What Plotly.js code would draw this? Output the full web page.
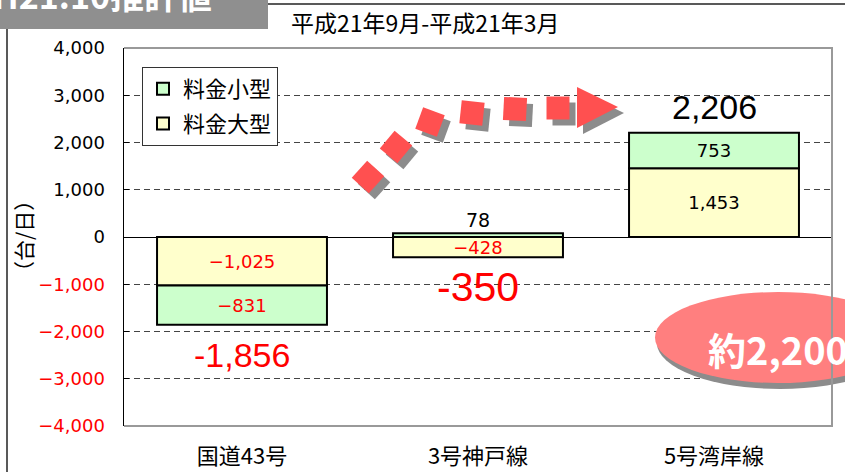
<!DOCTYPE html>
<html><head><meta charset="utf-8">
<script src="https://cdn.plot.ly/plotly-3.0.1.min.js"></script>
<style>html,body{margin:0;padding:0;background:#fff}#chart{width:845px;height:472px}</style>
</head><body><div id="chart"></div>
<script>
// ---- data ----
const categories = ['国道43号', '3号神戸線', '5号湾岸線'];
const seriesNames = ['料金大型', '料金小型'];
const largeValues = [-1025, -428, 1453];
const smallValues = [-831, 78, 753];
const yTickValues = [-4000, -3000, -2000, -1000, 0, 1000, 2000, 3000, 4000];
const headerText = 'H21.10推計値';
const periodText = '平成21年9月-平成21年3月';
const yAxisTitle = '（台/日）';
const calloutText = '約2,200';

// ---- geometry helpers (decoration only) ----
const W = 845, H = 472, M = {l: 124, r: 13, t: 48, b: 46};
const PW = W - M.l - M.r, PH = H - M.t - M.b;
const px = x => (x - M.l) / PW;
const py = y => (H - M.b - y) / PH;

const RED = '#FF0000';
const NUM = 'DejaVu Sans, Verdana, sans-serif';
const JP = 'Noto Sans CJK JP, sans-serif';
const fmtSeg = v => (v < 0 ? '−' : '') + Math.abs(v).toLocaleString('en-US');
const fmtTot = v => (v < 0 ? '-' : '') + Math.abs(v).toLocaleString('en-US');
const segColor = v => v < 0 ? RED : '#000';
const smallThreshold = 200;

const common = {type: 'bar', x: categories, textposition: 'inside', insidetextanchor: 'middle',
  textangle: 0, constraintext: 'none', width: 0.72, hoverinfo: 'skip'};

const traceLarge = Object.assign({}, common, {
  name: seriesNames[0], y: largeValues, legendgroup: 'a', legendrank: 2,
  text: largeValues.map(v => Math.abs(v) < smallThreshold ? '' : fmtSeg(v)),
  textfont: {family: NUM, size: 18, color: largeValues.map(segColor)},
  marker: {color: '#FFFFCC', line: {color: '#000', width: 2}}
});
const traceSmall = Object.assign({}, common, {
  name: seriesNames[1], y: smallValues, legendgroup: 'b', legendrank: 1,
  text: smallValues.map(v => Math.abs(v) < smallThreshold ? '' : fmtSeg(v)),
  textfont: {family: NUM, size: 18, color: smallValues.map(segColor)},
  marker: {color: '#CCFFCC', line: {color: '#000', width: 2}}
});

// ---- annotations ----
const annotations = [];
categories.forEach((c, i) => {
  const vals = [largeValues[i], smallValues[i]];
  const pos = vals.filter(v => v > 0).reduce((a, b) => a + b, 0);
  const neg = vals.filter(v => v < 0).reduce((a, b) => a + b, 0);
  const total = vals[0] + vals[1];
  vals.forEach(v => {
    if (Math.abs(v) < smallThreshold) {
      annotations.push({x: c, y: v > 0 ? pos : neg, xref: 'x', yref: 'y', text: fmtSeg(v),
        showarrow: false, yanchor: 'middle', yshift: v > 0 ? 13 : -13,
        font: {family: NUM, size: 19, color: segColor(v)}});
    }
  });
  const narrow = i === 1;
  annotations.push({x: c, y: total < 0 ? neg : pos, xref: 'x', yref: 'y', text: fmtTot(total),
    showarrow: false, yanchor: 'middle', yshift: total < 0 ? -30 : 26,
    font: {family: 'Liberation Sans, Arial', size: narrow ? 41 : 34, color: total < 0 ? RED : '#000'}});
});
annotations.push({xref: 'paper', yref: 'paper', x: px(-9), y: py(-6), xanchor: 'left', yanchor: 'middle',
  text: '<b>' + headerText + '</b>', showarrow: false, font: {family: JP, size: 34, color: '#fff'}});
annotations.push({xref: 'paper', yref: 'paper', x: px(289), y: py(22), xanchor: 'left', yanchor: 'middle',
  text: periodText, showarrow: false, font: {family: JP, size: 23, color: '#000'}});
annotations.push({xref: 'paper', yref: 'paper', x: px(23), y: py(236), xanchor: 'center', yanchor: 'middle',
  text: yAxisTitle, textangle: -90, showarrow: false, font: {family: JP, size: 21, color: '#000'}});
annotations.push({xref: 'paper', yref: 'paper', x: px(706), y: py(348), xanchor: 'left', yanchor: 'middle',
  text: '<b>' + calloutText + '</b>', showarrow: false, font: {family: JP, size: 38, color: '#fff'}});

// ---- decoration shapes ----
function pathFromPts(pts) {
  return 'M' + pts.map(p => px(p[0]).toFixed(5) + ',' + py(p[1]).toFixed(5)).join(' L') + ' Z';
}
function rotSquare(cx, cy, s, deg) {
  const a = deg * Math.PI / 180, h = s / 2, pts = [];
  [[-h, -h], [h, -h], [h, h], [-h, h]].forEach(([dx, dy]) => {
    pts.push([cx + dx * Math.cos(a) - dy * Math.sin(a), cy + dx * Math.sin(a) + dy * Math.cos(a)]);
  });
  return pts;
}
const arrowSquares = [[368, 177, 42], [396, 147, 40], [430, 122, 20], [472, 113, 6], [515, 109, 3], [558, 108, 0]];
const arrowHead = [[577, 87], [577, 128], [618, 107]];
const shapes = [];
const sh = 6;
const arrowShapes = [];
arrowSquares.forEach(([cx, cy, d]) => arrowShapes.push(rotSquare(cx, cy, 23, d)));
arrowShapes.push(arrowHead);
arrowShapes.forEach(pts => shapes.push({type: 'path', xref: 'paper', yref: 'paper', layer: 'above',
  path: pathFromPts(pts.map(p => [p[0] + sh, p[1] + sh])), fillcolor: '#8C8C8C', line: {width: 0}}));
arrowShapes.forEach(pts => shapes.push({type: 'path', xref: 'paper', yref: 'paper', layer: 'above',
  path: pathFromPts(pts), fillcolor: '#FF5050', line: {width: 0}}));
// callout ellipse
shapes.push({type: 'circle', xref: 'paper', yref: 'paper', layer: 'above',
  x0: px(657), x1: px(903), y0: py(297), y1: py(389), fillcolor: '#8C8C8C', line: {width: 0}});
shapes.push({type: 'circle', xref: 'paper', yref: 'paper', layer: 'above',
  x0: px(655), x1: px(901), y0: py(292), y1: py(383), fillcolor: '#FF7F7F', line: {width: 0}});
// header box and frame lines
shapes.push({type: 'rect', xref: 'paper', yref: 'paper', layer: 'above',
  x0: px(-2), x1: px(268), y0: py(29), y1: py(-5), fillcolor: '#8F8F8F', line: {width: 0}});
shapes.push({type: 'line', xref: 'paper', yref: 'paper', x0: px(268), x1: px(850), y0: py(4), y1: py(4),
  line: {color: '#222', width: 1.5}});
shapes.push({type: 'line', xref: 'paper', yref: 'paper', x0: px(7), x1: px(7), y0: py(29), y1: py(480),
  line: {color: '#222', width: 1.5}});
shapes.push({type: 'path', xref: 'paper', yref: 'paper', layer: 'above',
  path: 'M' + px(124) + ',' + py(48) + ' L' + px(832) + ',' + py(48) + ' L' + px(832) + ',' + py(426) + ' L' + px(124) + ',' + py(426),
  line: {color: '#999', width: 2}});

const tickText = yTickValues.map(v => v < 0
  ? '<span style="color:#FF0000">' + fmtSeg(v) + '</span>'
  : Math.abs(v).toLocaleString('en-US'));

const layout = {
  width: W, height: H, margin: M, paper_bgcolor: '#fff', plot_bgcolor: '#fff',
  barmode: 'relative', showlegend: true,
  legend: {x: px(142), y: py(67), xanchor: 'left', yanchor: 'top', bgcolor: '#fff',
    bordercolor: '#333', borderwidth: 1, traceorder: 'grouped', tracegroupgap: 3,
    font: {family: JP, size: 22, color: '#000'}, itemwidth: 30},
  xaxis: {type: 'category', showline: false, ticks: '', showgrid: false, zeroline: false,
    tickfont: {family: JP, size: 22, color: '#000'}, ticklabelstandoff: 15, fixedrange: true},
  yaxis: {range: [-4000, 4000], tickmode: 'array', tickvals: yTickValues, ticktext: tickText,
    showline: true, linecolor: '#000', linewidth: 1.5, ticks: 'inside', ticklen: 5, tickcolor: '#000',
    showgrid: true, gridcolor: '#444', gridwidth: 1, griddash: '6px,4px',
    zeroline: true, zerolinecolor: '#000', zerolinewidth: 1,
    tickfont: {family: NUM, size: 18, color: '#000'}, ticklabelstandoff: 14, fixedrange: true},
  annotations: annotations, shapes: shapes
};

Plotly.newPlot('chart', [traceLarge, traceSmall], layout, {displayModeBar: false, staticPlot: true});
</script></body></html>
